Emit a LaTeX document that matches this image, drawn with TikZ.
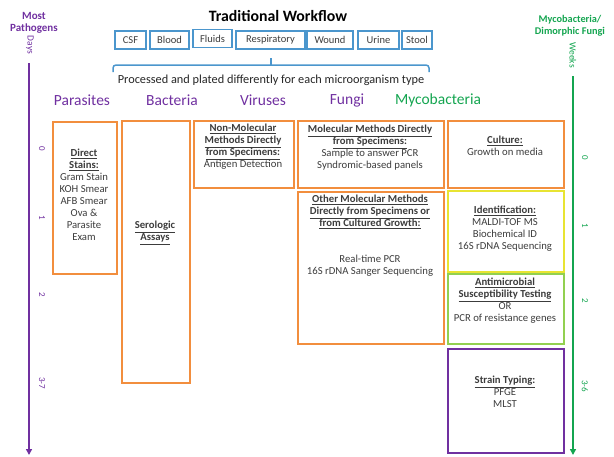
\documentclass[tikz,border=0pt]{standalone}
\usepackage{fontspec}
\setmainfont{Carlito}
\usetikzlibrary{arrows.meta}

\definecolor{orgpurple}{RGB}{112,48,160}
\definecolor{orggreen}{RGB}{20,165,80}
\definecolor{boxorange}{RGB}{242,142,62}
\definecolor{boxblue}{RGB}{75,150,205}
\definecolor{boxyellow}{RGB}{232,228,50}
\definecolor{boxlime}{RGB}{146,208,80}
\definecolor{txtgray}{RGB}{60,60,60}

\tikzset{
  specimen/.style={draw=boxblue, line width=1.3pt, minimum height=18pt, inner sep=0pt,
    font=\fontsize{10.5}{11}\selectfont, text=txtgray},
  testbox/.style={draw=#1, line width=1.5pt, anchor=north west, inner sep=0pt},
  boxtext/.style={align=center, font=\fontsize{10.7}{12}\selectfont, text=txtgray,
    anchor=north, inner sep=0pt},
  category/.style={font=\fontsize{15.5}{16}\selectfont},
  ticklabel/.style={rotate=-90, font=\fontsize{9}{9}\selectfont},
  timeline/.style={line width=2pt, -{Triangle[length=6pt,width=6pt]}},
}
\newcommand{\hd}[1]{\underline{\textbf{#1}}}

\begin{document}
\begin{tikzpicture}[x=1pt, y=-1pt]
  \useasboundingbox (0,0) rectangle (614,456);

  % title and specimens
  \node[font=\fontsize{15.8}{17}\selectfont\bfseries] (title) at (278,16) {Traditional Workflow};
  \node[specimen, minimum width=31pt] (csf) at (130.5,40) {CSF};
  \node[specimen, minimum width=39pt] (blood) at (169.5,40) {Blood};
  \node[specimen, minimum width=39pt] (fluids) at (212.5,38.5) {Fluids};
  \node[specimen, minimum width=69pt] (resp) at (270.5,40) {Respiratory};
  \node[specimen, minimum width=46pt] (wound) at (330,40) {Wound};
  \node[specimen, minimum width=41pt] (urine) at (378.5,40) {Urine};
  \node[specimen, minimum width=30pt] (stool) at (417,40) {Stool};

  % brace
  \draw[boxblue, line width=1.5pt, rounded corners=3pt]
    (113,72) -- (113,65) -- (429,65) -- (429,72);
  \draw[boxblue, line width=1.5pt] (271,65) -- (271,58);
  \node[font=\fontsize{12.3}{14}\selectfont, text=black!85] (processed) at (271,80)
    {Processed and plated differently for each microorganism type};

  % organism groups
  \node[category, text=orgpurple] (parasites) at (82,100) {Parasites};
  \node[category, text=orgpurple] (bacteria) at (172,100) {Bacteria};
  \node[category, text=orgpurple] (viruses) at (263,100) {Viruses};
  \node[category, text=orgpurple] (fungi) at (347,100) {Fungi};
  \node[category, text=orggreen] (myco) at (438,100) {Mycobacteria};

  % days axis
  \node[align=center, text=orgpurple, font=\fontsize{11}{12}\selectfont\bfseries] (most) at (34,23) {Most\\Pathogens};
  \node[ticklabel, text=orgpurple, font=\fontsize{9.5}{10}\selectfont] (days) at (30,45) {Days};
  \coordinate (daystop) at (29,63);
  \coordinate (daysend) at (29,455);
  \draw[timeline, orgpurple] (daystop) -- (daysend);
  \node[ticklabel, text=orgpurple] (d0) at (42,149) {0};
  \node[ticklabel, text=orgpurple] (d1) at (42,218) {1};
  \node[ticklabel, text=orgpurple] (d2) at (42,295) {2};
  \node[ticklabel, text=orgpurple] (d3) at (42,383) {3-7};

  % weeks axis
  \node[align=center, text=orggreen, font=\fontsize{10.3}{12}\selectfont\bfseries] (mycodim) at (570,26) {Mycobacteria/\\Dimorphic Fungi};
  \node[ticklabel, text=orggreen, font=\fontsize{9.5}{10}\selectfont] (weeks) at (573,55) {Weeks};
  \coordinate (weekstop) at (573,76);
  \coordinate (weeksend) at (573,455);
  \draw[timeline, orggreen] (weekstop) -- (weeksend);
  \node[ticklabel, text=orggreen] (w0) at (585,158) {0};
  \node[ticklabel, text=orggreen] (w1) at (585,226) {1};
  \node[ticklabel, text=orggreen] (w2) at (585,301) {2};
  \node[ticklabel, text=orggreen] (w3) at (585,386) {3-6};

  % method boxes
  \node[testbox=boxorange, minimum width=64pt, minimum height=152pt] (stains) at (52,121) {};
  \node[testbox=boxorange, minimum width=68pt, minimum height=262pt] (sero) at (121,120) {};
  \node[testbox=boxorange, minimum width=100pt, minimum height=67pt] (nonmol) at (193,120) {};
  \node[testbox=boxorange, minimum width=146pt, minimum height=67pt] (moldirect) at (297,120) {};
  \node[testbox=boxorange, minimum width=146pt, minimum height=152pt] (molother) at (297,191) {};
  \node[testbox=boxorange, minimum width=116pt, minimum height=67pt] (culture) at (447,120) {};
  \node[testbox=boxyellow, minimum width=116pt, minimum height=81pt] (ident) at (447,190) {};
  \node[testbox=boxlime, minimum width=116pt, minimum height=70pt] (ast) at (447,273) {};
  \node[testbox=orgpurple, minimum width=116pt, minimum height=104pt] (strain) at (447,348) {};

  % box texts
  \node[boxtext] (stainstxt) at (84,149) {\hd{Direct}\\\hd{Stains:}\\Gram Stain\\KOH Smear\\AFB Smear\\Ova \&\\Parasite\\Exam};
  \node[boxtext] (serotxt) at (155,221) {\hd{Serologic}\\\hd{Assays}};
  \node[boxtext] (nonmoltxt) at (243,124) {\hd{Non-Molecular}\\\hd{Methods Directly}\\\hd{from Specimens:}\\Antigen Detection};
  \node[boxtext] (moldirecttxt) at (370,125) {\hd{Molecular Methods Directly}\\\hd{from Specimens:}\\Sample to answer PCR\\Syndromic-based panels};
  \node[boxtext] (molothertxt) at (370,195) {\hd{Other Molecular Methods}\\\hd{Directly from Specimens or}\\\hd{from Cultured Growth:}\\[24pt]Real-time PCR\\16S rDNA Sanger Sequencing};
  \node[boxtext] (culturetxt) at (505,136) {\hd{Culture:}\\Growth on media};
  \node[boxtext] (identtxt) at (505,206) {\hd{Identification:}\\MALDI-TOF MS\\Biochemical ID\\16S rDNA Sequencing};
  \node[boxtext] (asttxt) at (505,278) {\hd{Antimicrobial}\\\hd{Susceptibility Testing}\\OR\\PCR of resistance genes};
  \node[boxtext] (straintxt) at (505,376) {\hd{Strain Typing:}\\PFGE\\MLST};
\end{tikzpicture}
\end{document}
